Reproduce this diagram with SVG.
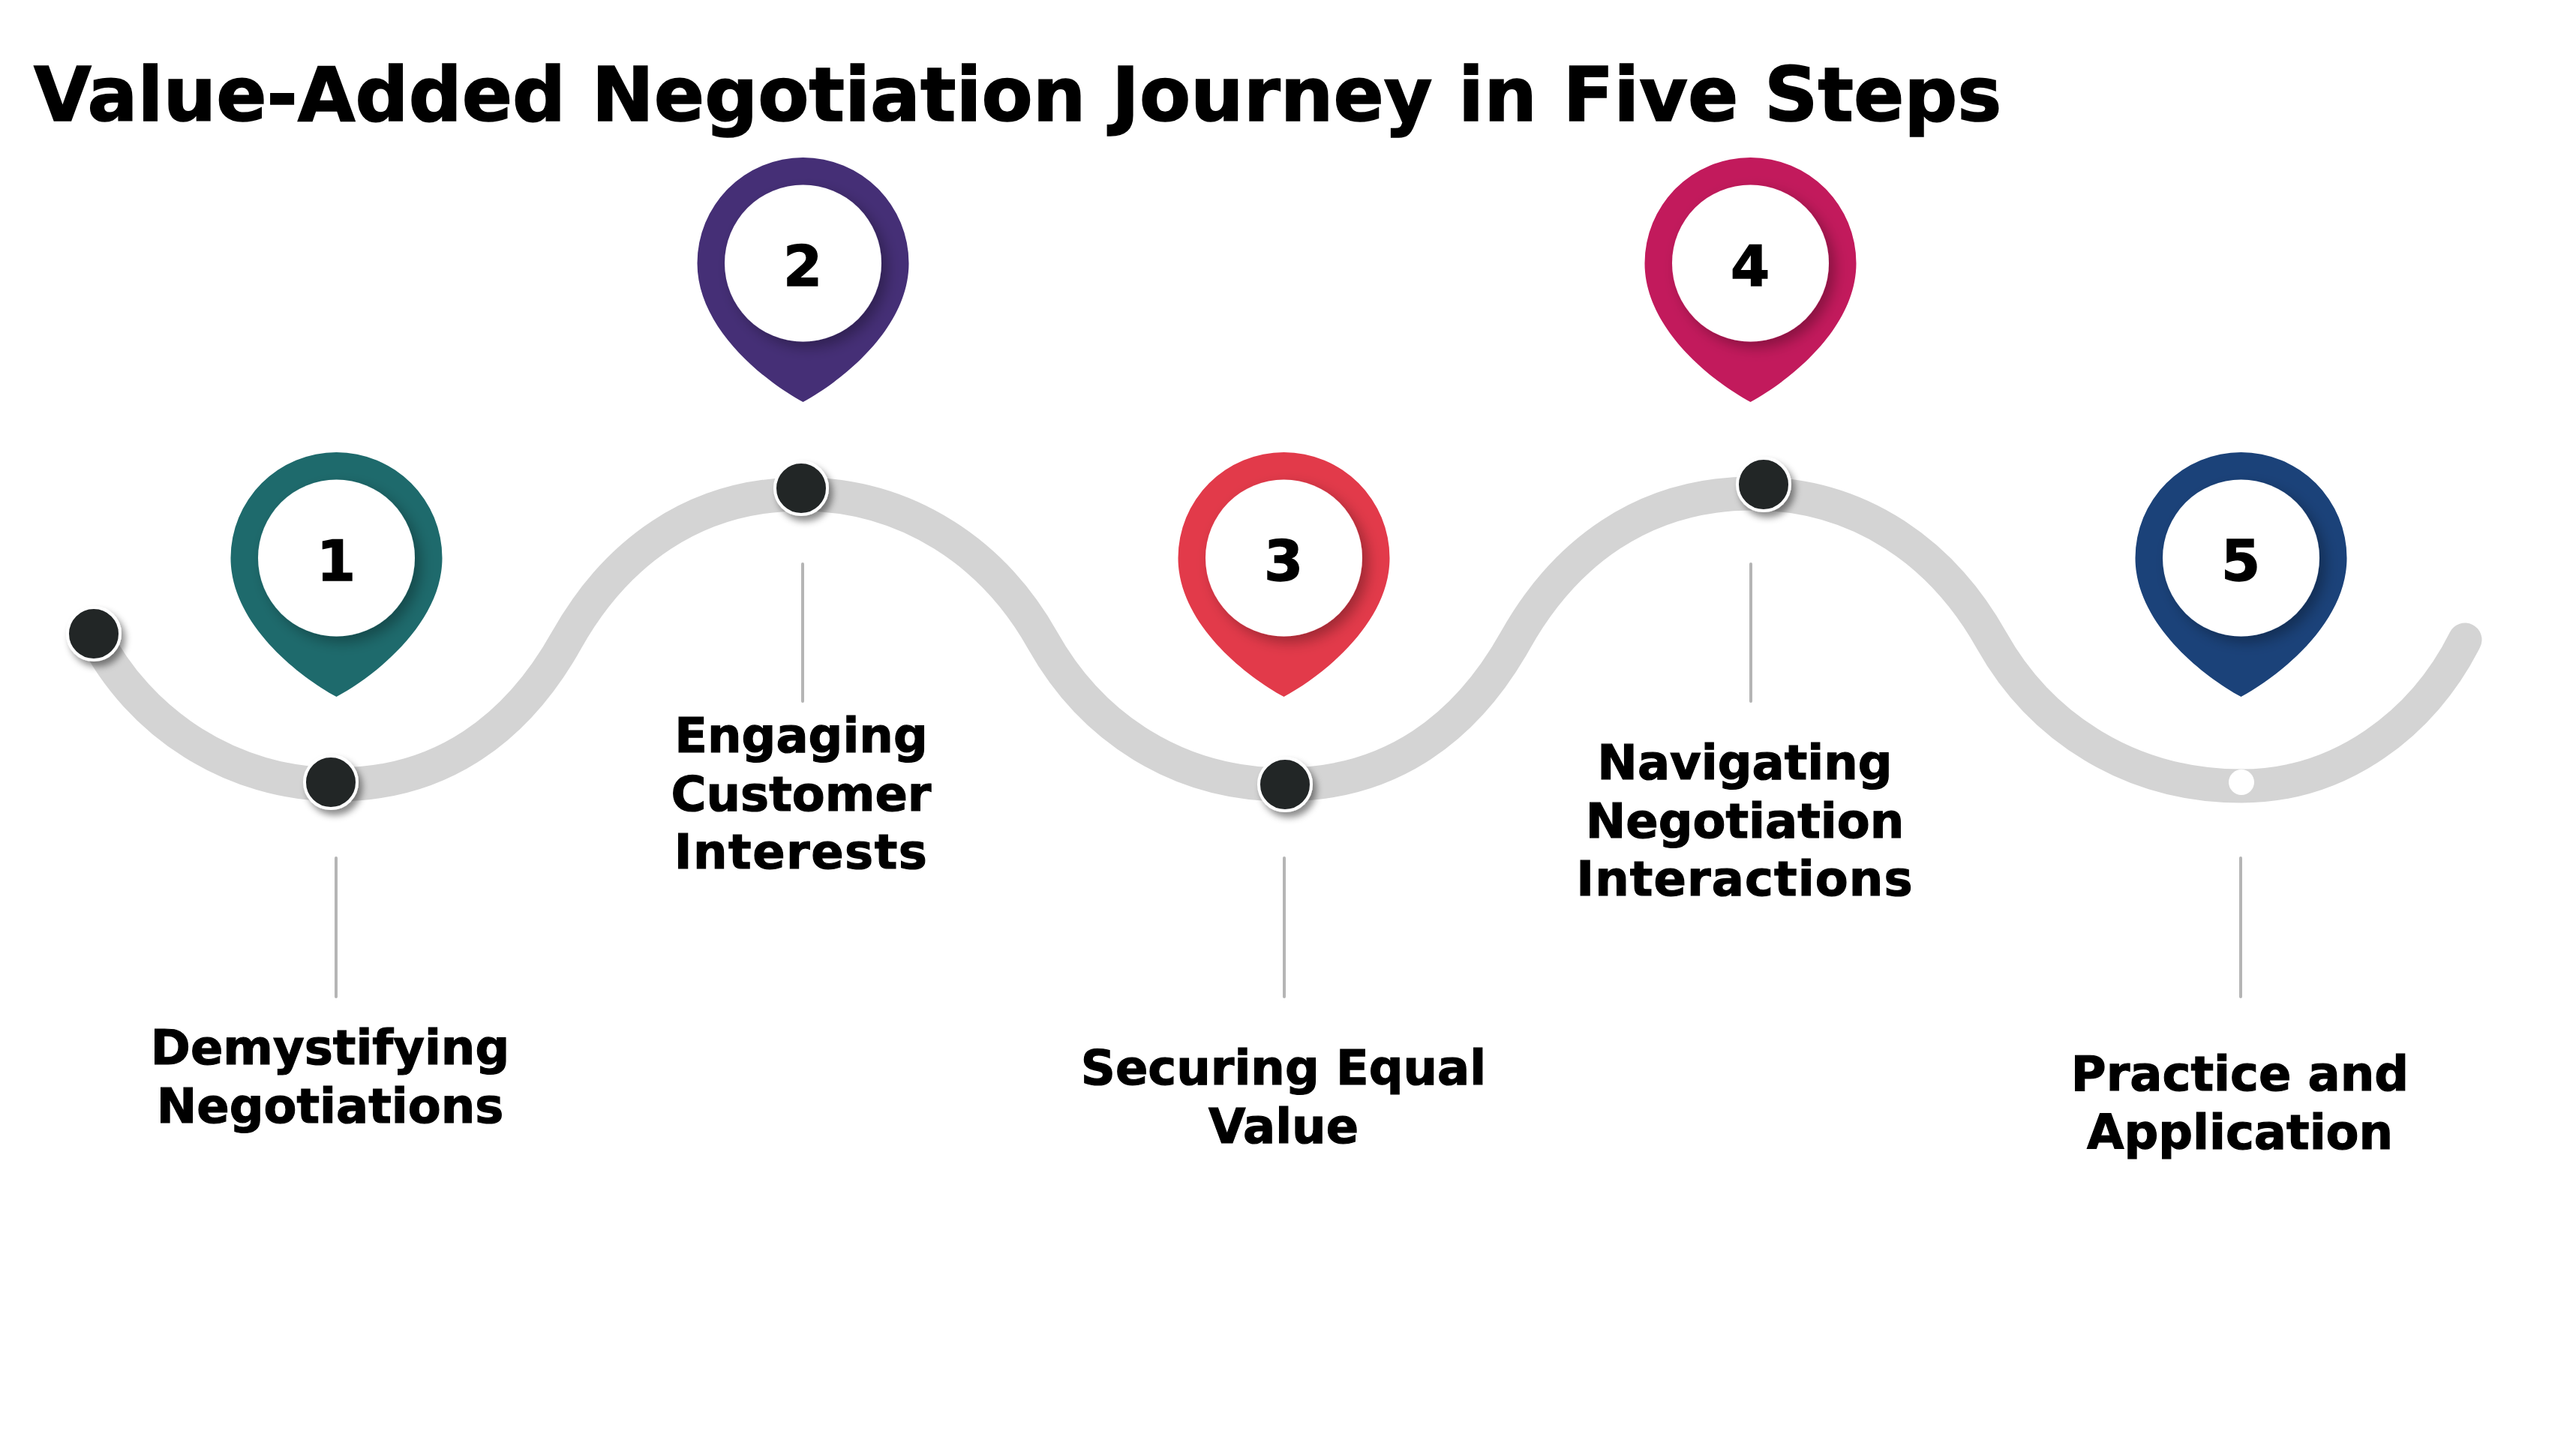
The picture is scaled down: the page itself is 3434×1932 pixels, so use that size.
<svg xmlns="http://www.w3.org/2000/svg" xmlns:xlink="http://www.w3.org/1999/xlink" width="3434" height="1932" viewBox="0 0 3434 1932">
<style>
text{font-family:"DejaVu Sans","Liberation Sans",sans-serif;font-weight:700;fill:#000;stroke:#000;text-anchor:middle}
.title{font-size:99.3px;stroke-width:1.6px;text-anchor:start}
.label{font-size:64px;stroke-width:1.2px}
.num{font-size:75px;stroke-width:1.4px}
.track{fill:none;stroke:#d4d4d4;stroke-width:45;stroke-linecap:round}
.lead{stroke:#b5b5b5;stroke-width:4;stroke-linecap:round}
.dot{fill:#212527;stroke:#fff;stroke-width:4;filter:url(#ds)}
.hole{fill:#fff;filter:url(#cs)}
</style>
<defs>
<filter id="cs" x="-30%" y="-30%" width="170%" height="170%"><feDropShadow dx="8" dy="8" stdDeviation="9" flood-color="#000" flood-opacity=".3"/></filter>
<filter id="ds" x="-40%" y="-40%" width="190%" height="190%"><feDropShadow dx="5" dy="7" stdDeviation="5" flood-color="#000" flood-opacity=".45"/></filter>
<path id="pin" d="M0 185C55 155 141 85 141 0A141 141 0 0 0-141 0C-141 85-55 155 0 185Z"/>
</defs>
<rect width="3434" height="1932" fill="#fff"/>
<text class="title" x="45" y="161">Value-Added Negotiation Journey in Five Steps</text>
<g id="connectors">
<path class="track" d="M125 845C185 965 310 1046 449 1046C590 1046 690 970 755 854C820 738 925 659 1068 659C1210 659 1325 738 1390 854C1455 970 1570 1046 1712 1046C1855 1046 1955 970 2020 854C2085 738 2190 658 2336 658C2480 658 2590 738 2655 854C2720 970 2840 1048 2988 1048C3120 1048 3230 965 3286 853"/>
<line class="lead" x1="448" y1="1144" x2="448" y2="1329"/>
<line class="lead" x1="1070" y1="752" x2="1070" y2="935"/>
<line class="lead" x1="1712" y1="1144" x2="1712" y2="1329"/>
<line class="lead" x1="2334" y1="752" x2="2334" y2="935"/>
<line class="lead" x1="2987" y1="1144" x2="2987" y2="1329"/>
</g>
<g id="start"><circle class="dot" cx="125" cy="845" r="35"/></g>
<g id="node1">
<use href="#pin" x="448.5" y="744" fill="#1e6a6c"/><circle class="hole" cx="448.5" cy="744" r="104.5"/>
<text class="num" x="448" y="774">1</text>
<circle class="dot" cx="441" cy="1043" r="35"/>
<text class="label" x="440" y="1419">Demystifying</text><text class="label" x="440" y="1497">Negotiations</text>
</g>
<g id="node2">
<use href="#pin" x="1070.5" y="351" fill="#452f76"/><circle class="hole" cx="1070.5" cy="351" r="104.5"/>
<text class="num" x="1070" y="381">2</text>
<circle class="dot" cx="1068" cy="651" r="35"/>
<text class="label" x="1068" y="1003">Engaging</text><text class="label" x="1068" y="1081">Customer</text><text class="label" x="1068" y="1158" letter-spacing="1.5">Interests</text>
</g>
<g id="node3">
<use href="#pin" x="1711.5" y="744" fill="#e23a4a"/><circle class="hole" cx="1711.5" cy="744" r="104.5"/>
<text class="num" x="1711" y="774">3</text>
<circle class="dot" cx="1713" cy="1046" r="35"/>
<text class="label" x="1711" y="1446">Securing Equal</text><text class="label" x="1711" y="1524">Value</text>
</g>
<g id="node4">
<use href="#pin" x="2333.5" y="351" fill="#c21a5c"/><circle class="hole" cx="2333.5" cy="351" r="104.5"/>
<text class="num" x="2333" y="381">4</text>
<circle class="dot" cx="2351" cy="646" r="35"/>
<text class="label" x="2326" y="1039">Navigating</text><text class="label" x="2326" y="1117">Negotiation</text><text class="label" x="2326" y="1194" letter-spacing="1.1">Interactions</text>
</g>
<g id="node5">
<use href="#pin" x="2987.5" y="744" fill="#1b4279"/><circle class="hole" cx="2987.5" cy="744" r="104.5"/>
<text class="num" x="2987" y="774">5</text>
<circle cx="2988" cy="1043" r="17" fill="#fff"/>
<text class="label" x="2986" y="1454">Practice and</text><text class="label" x="2986" y="1532">Application</text>
</g>
</svg>
